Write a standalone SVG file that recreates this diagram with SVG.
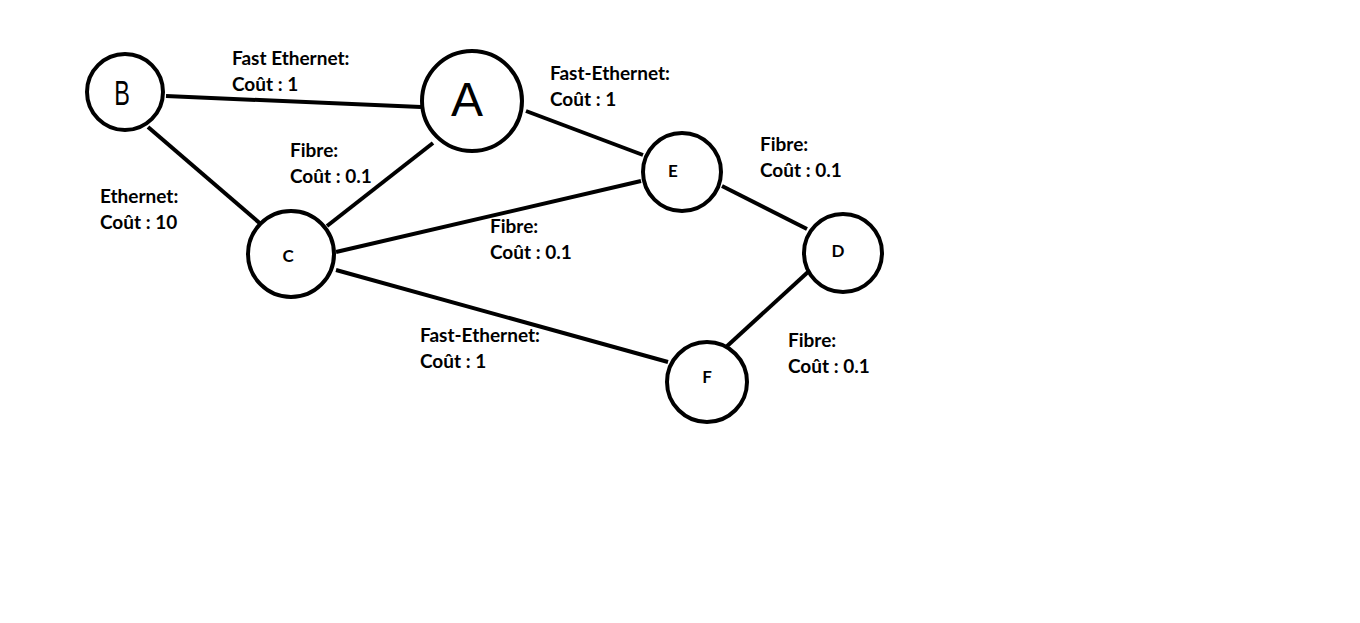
<svg xmlns="http://www.w3.org/2000/svg" width="1360" height="623" viewBox="0 0 1360 623">
  <style>
    .link { stroke: #000; stroke-width: 4; stroke-linecap: butt; fill: none; }
    .node { fill: #fff; stroke: #000; stroke-width: 4; }
    .lbl { font-family: Lato, "Liberation Sans", sans-serif; font-weight: 700; font-size: 19px; fill: #000; }
    .small { font-family: Lato, "Liberation Sans", sans-serif; font-weight: 700; font-size: 17px; fill: #000; text-anchor: middle; }
    .big { font-family: "Liberation Sans", Arial, sans-serif; font-weight: 400; fill: #000; text-anchor: middle; }
  </style>
  <rect width="1360" height="623" fill="#fff"/>

  <!-- links between the routers -->
  <g id="connectors">
    <line class="link" x1="166" y1="96" x2="421" y2="107"/>
    <line class="link" x1="148" y1="127" x2="263" y2="226"/>
    <line class="link" x1="433" y1="143" x2="327" y2="226"/>
    <line class="link" x1="526" y1="111" x2="643" y2="155"/>
    <line class="link" x1="336" y1="252" x2="641" y2="181"/>
    <line class="link" x1="336" y1="270" x2="668" y2="362"/>
    <line class="link" x1="722" y1="186" x2="807" y2="229"/>
    <line class="link" x1="808" y1="272" x2="725" y2="348"/>
  </g>

  <!-- link labels -->
  <g id="labels">
    <text class="lbl" x="232" y="65">Fast Ethernet:</text>
    <text class="lbl" x="232" y="91">Coût : 1</text>
    <text class="lbl" x="550" y="80">Fast-Ethernet:</text>
    <text class="lbl" x="550" y="106">Coût : 1</text>
    <text class="lbl" x="290" y="157">Fibre:</text>
    <text class="lbl" x="290" y="183">Coût : 0.1</text>
    <text class="lbl" x="100" y="203">Ethernet:</text>
    <text class="lbl" x="100" y="229">Coût : 10</text>
    <text class="lbl" x="490" y="233">Fibre:</text>
    <text class="lbl" x="490" y="259">Coût : 0.1</text>
    <text class="lbl" x="760" y="151">Fibre:</text>
    <text class="lbl" x="760" y="177">Coût : 0.1</text>
    <text class="lbl" x="420" y="342">Fast-Ethernet:</text>
    <text class="lbl" x="420" y="368">Coût : 1</text>
    <text class="lbl" x="788" y="347">Fibre:</text>
    <text class="lbl" x="788" y="373">Coût : 0.1</text>
  </g>

  <g id="node-B">
    <circle class="node" cx="125" cy="92" r="38"/>
    <text class="big" font-size="36" transform="translate(122 105) scale(0.65 1)" x="0" y="0">B</text>
  </g>
  <g id="node-A">
    <circle class="node" cx="472" cy="101" r="50"/>
    <text class="big" font-size="48" x="467" y="116">A</text>
  </g>
  <g id="node-C">
    <circle class="node" cx="291" cy="254" r="43"/>
    <text class="small" x="288" y="262">C</text>
  </g>
  <g id="node-E">
    <circle class="node" cx="682" cy="172" r="39"/>
    <text class="small" x="673" y="177">E</text>
  </g>
  <g id="node-D">
    <circle class="node" cx="843" cy="253" r="39"/>
    <text class="small" x="838" y="257">D</text>
  </g>
  <g id="node-F">
    <circle class="node" cx="707" cy="382" r="40"/>
    <text class="small" x="707" y="383">F</text>
  </g>
</svg>
